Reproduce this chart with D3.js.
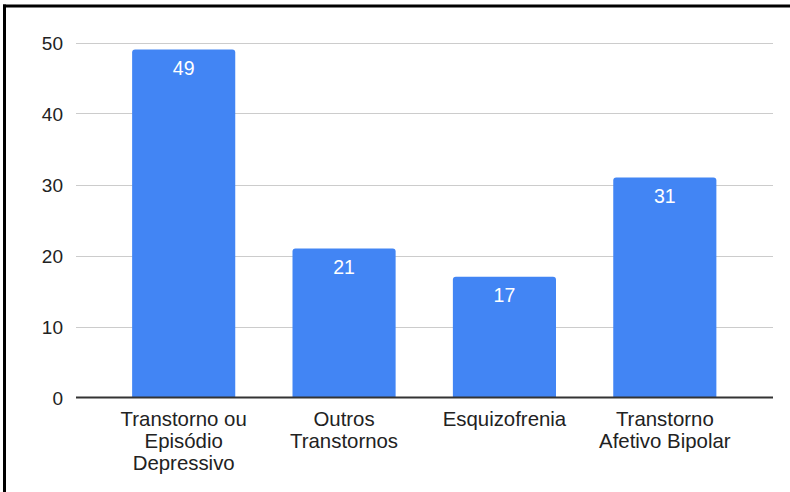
<!DOCTYPE html>
<meta charset="utf-8">
<style>
    body {
        margin: 0;
        background: #fff;
        font-family: "Liberation Sans", Arial, sans-serif;
    }
</style>
<svg width="790" height="492"></svg>
<script src="https://d3js.org/d3.v7.min.js"></script>
<script>
    // data
    const categories = [
        ["Transtorno ou", "Episódio", "Depressivo"],
        ["Outros", "Transtornos"],
        ["Esquizofrenia"],
        ["Transtorno", "Afetivo Bipolar"]
    ];
    const values = [49, 21, 17, 31];
    const yTicks = [0, 10, 20, 30, 40, 50];

    var svg = d3.select("svg"),
        width = +svg.attr("width"),
        height = +svg.attr("height");

    var x = d3.scaleBand()
        .domain(d3.range(values.length))
        .range([103.5, 745])
        .paddingInner(0.357)
        .paddingOuter(0.1785);

    var y = d3.scaleLinear()
        .domain([0, 50])
        .range([397.5, 42.5]);

    // gridlines
    svg.append("g")
        .selectAll("line")
        .data(yTicks.filter(d => d > 0))
        .enter().append("line")
        .attr("x1", 76)
        .attr("x2", 773)
        .attr("y1", d => Math.round(y(d)) + 0.5)
        .attr("y2", d => Math.round(y(d)) + 0.5)
        .style("stroke", "#ccc")
        .style("stroke-width", 1);

    // y tick labels
    svg.append("g")
        .selectAll("text")
        .data(yTicks)
        .enter().append("text")
        .attr("x", 63)
        .attr("y", d => y(d) + 7)
        .attr("text-anchor", "end")
        .style("font-size", "19px")
        .style("fill", "#222")
        .text(d => d);

    // bars, rounded top corners
    var r = 3;
    function barPath(i) {
        var x0 = x(i), x1 = x(i) + x.bandwidth(),
            y0 = y(values[i]), y1 = y(0);
        return `M${x0},${y1}V${y0 + r}Q${x0},${y0} ${x0 + r},${y0}H${x1 - r}Q${x1},${y0} ${x1},${y0 + r}V${y1}Z`;
    }

    svg.append("g")
        .selectAll("path")
        .data(values)
        .enter().append("path")
        .attr("d", (d, i) => barPath(i))
        .style("fill", "#4285f4");

    // value labels
    svg.append("g")
        .selectAll("text")
        .data(values)
        .enter().append("text")
        .attr("x", (d, i) => x(i) + x.bandwidth() / 2)
        .attr("y", d => y(d) + 25.5)
        .attr("text-anchor", "middle")
        .style("font-size", "19.5px")
        .style("fill", "#fff")
        .text(d => d);

    // baseline
    svg.append("line")
        .attr("x1", 76)
        .attr("x2", 773)
        .attr("y1", 397.5)
        .attr("y2", 397.5)
        .style("stroke", "#333")
        .style("stroke-width", 2);

    // category labels
    var cat = svg.append("g")
        .selectAll("text")
        .data(categories)
        .enter().append("text")
        .attr("x", (d, i) => x(i) + x.bandwidth() / 2)
        .attr("y", 425.5)
        .attr("text-anchor", "middle")
        .style("font-size", "20.4px")
        .style("fill", "#222");

    cat.selectAll("tspan")
        .data(d => d)
        .enter().append("tspan")
        .attr("x", function () { return this.parentNode.getAttribute("x"); })
        .attr("dy", (d, i) => i == 0 ? 0 : 22.3)
        .text(d => d);

    // frame (screenshot crop)
    svg.append("line")
        .attr("x1", 3).attr("x2", width)
        .attr("y1", 6).attr("y2", 6)
        .style("stroke", "#000")
        .style("stroke-width", 3);
    svg.append("line")
        .attr("x1", 4.5).attr("x2", 4.5)
        .attr("y1", 4.5).attr("y2", height)
        .style("stroke", "#000")
        .style("stroke-width", 3);
</script>
